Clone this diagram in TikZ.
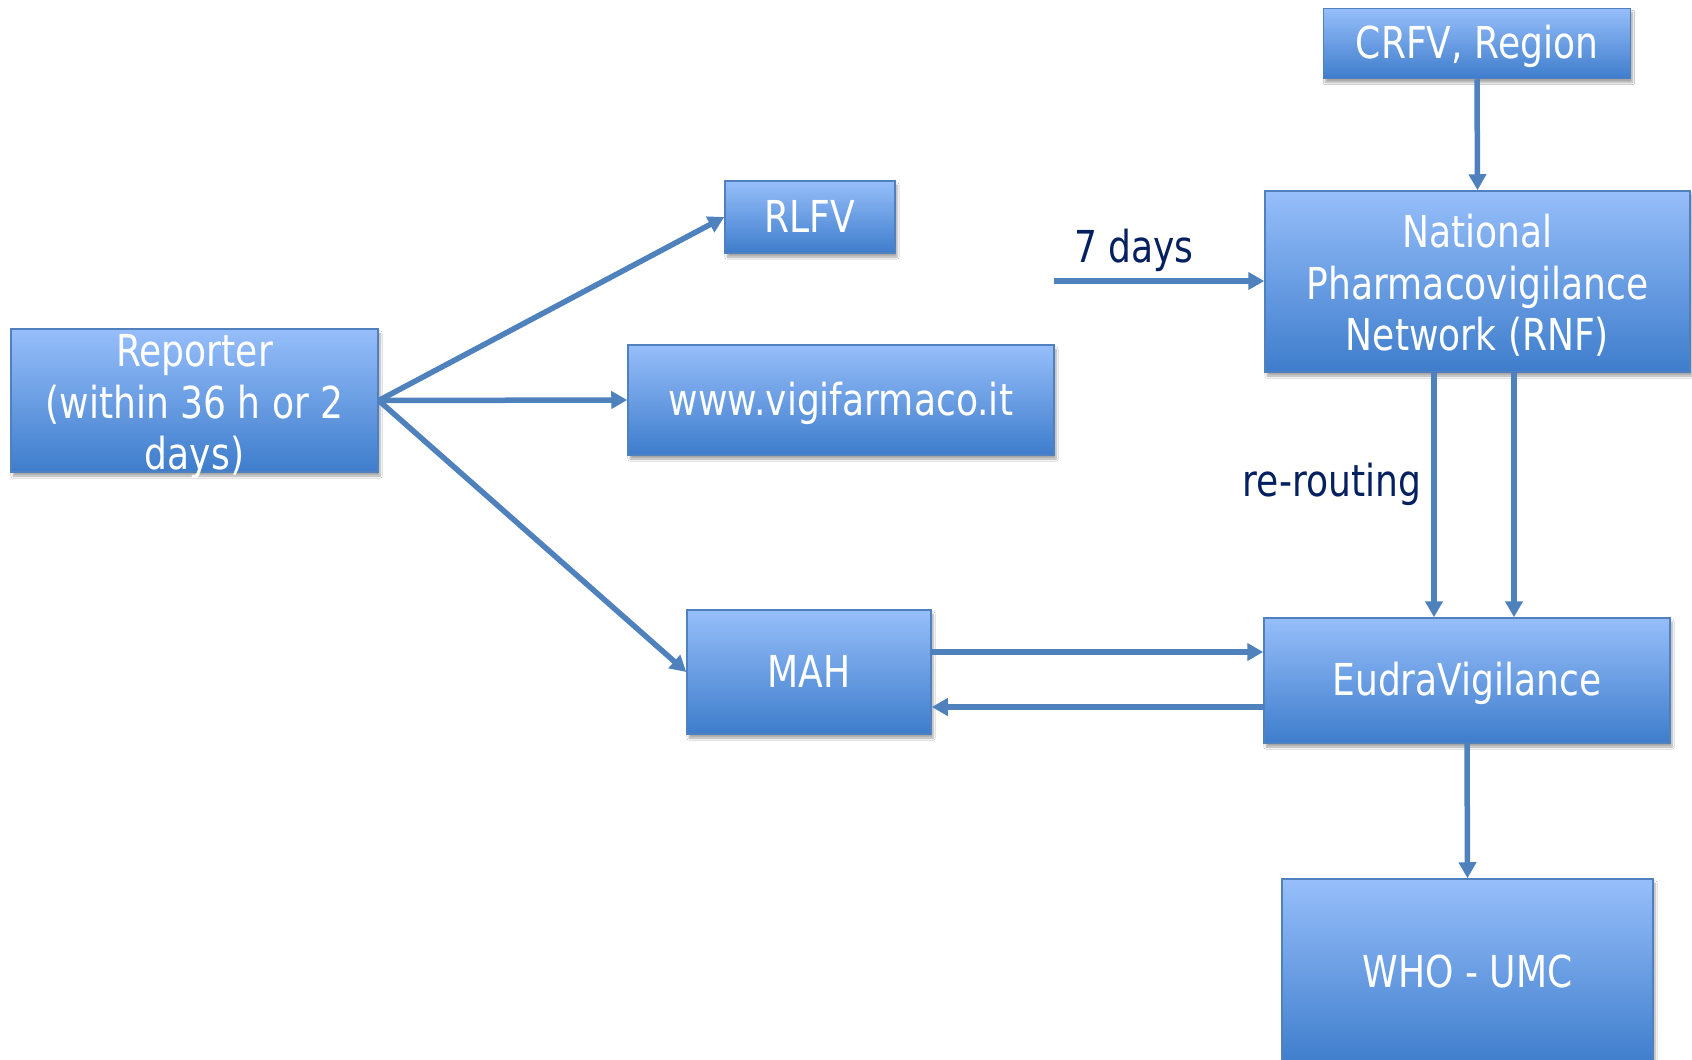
\documentclass[tikz,border=0pt]{standalone}
\usepackage{fontspec}
\setmainfont{DejaVu Sans}[FakeStretch=0.82]
\usetikzlibrary{arrows.meta,shadows.blur}
\definecolor{boxtop}{RGB}{150,190,250}
\definecolor{boxbot}{RGB}{62,125,204}
\definecolor{boxline}{RGB}{80,128,190}
\definecolor{arrowc}{RGB}{79,129,189}
\definecolor{navy}{RGB}{5,32,96}
\tikzset{
  box/.style={draw=boxline, line width=1.5pt, top color=boxtop, bottom color=boxbot,
    text=white, font=\fontsize{44}{50}\selectfont, align=center, inner sep=0pt,
    blur shadow={shadow xshift=2pt, shadow yshift=-4pt, shadow blur steps=6, shadow opacity=35}},
  one/.style={text height=30pt, text depth=0pt},
  multi/.style={text=white, font=\fontsize{44}{51.5}\selectfont, align=center, inner sep=0pt},
  arr/.style={draw=arrowc, line width=5.5pt, -{Triangle[length=16pt,width=17pt]}},
  lbl/.style={text=navy, font=\fontsize{44}{50}\selectfont, inner sep=0pt, anchor=base},
}
\begin{document}
\begin{tikzpicture}[x=1pt,y=-1pt]
\useasboundingbox[fill=white] (0,0) rectangle (1692,1060);
\node[box, one, minimum width=307pt, minimum height=70pt] (crfv) at (1477,43.5) {CRFV, Region};
\node[box, minimum width=425pt, minimum height=181pt,
  label={[multi, yshift=-4pt]center:National\\Pharmacovigilance\\Network (RNF)}] (rnf) at (1477.5,281.5) {};
\node[box, one, minimum width=170pt, minimum height=72pt] (rlfv) at (810,217) {RLFV};
\node[box, minimum width=367pt, minimum height=143pt,
  label={[multi, yshift=-6.5pt]center:Reporter\\(within 36 h or 2\\days)}] (rep) at (194.5,400.5) {};
\node[box, one, minimum width=426pt, minimum height=110pt] (www) at (841,400) {www.vigifarmaco.it};
\node[box, one, minimum width=244pt, minimum height=124pt] (mah) at (809,672) {MAH};
\node[box, one, minimum width=406pt, minimum height=125pt] (eudra) at (1467,680.5) {EudraVigilance};
\node[box, one, minimum width=371pt, minimum height=186pt] (who) at (1467.5,972) {WHO - UMC};

\node[lbl] (days) at (1134,262) {7 days};
\node[lbl] (rerout) at (1332,496) {re-routing};
\coordinate (dstart) at (1054,281);

\draw[arr] (crfv.south) -- (rnf.north);
\draw[arr] (dstart) -- (dstart -| rnf.west);
\draw[arr] ([xshift=-43.5pt]rnf.south) -- ([xshift=-43.5pt]rnf.south |- eudra.north);
\draw[arr] ([xshift=36.5pt]rnf.south) -- ([xshift=36.5pt]rnf.south |- eudra.north);
\draw[arr] (eudra.south) -- (who.north);
\draw[arr] (rep.east) -- (rlfv.west);
\draw[arr] (rep.east) -- (www.west);
\draw[arr] (rep.east) -- (mah.west);
\draw[arr] ([yshift=20pt]mah.east) -- ([yshift=20pt]mah.east -| eudra.west);
\draw[arr] ([yshift=-35pt]mah.east -| eudra.west) -- ([yshift=-35pt]mah.east);
\end{tikzpicture}
\end{document}
